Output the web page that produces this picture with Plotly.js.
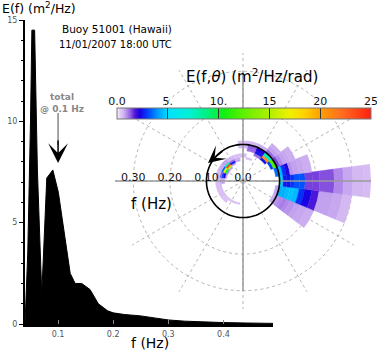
<!DOCTYPE html>
<html><head><meta charset="utf-8">
<script src="https://cdn.plot.ly/plotly-3.0.1.min.js"></script>
<style>html,body{margin:0;padding:0;background:#fff}#chart{width:377px;height:352px}</style>
</head><body><div id="chart"></div>
<script>
// ---- 1-D frequency spectrum E(f) ----
const specFreq   = [0.04, 0.045, 0.05, 0.0525, 0.0575, 0.06, 0.0625, 0.0675, 0.0705, 0.0795, 0.0905, 0.1005, 0.11, 0.122, 0.131, 0.143, 0.158, 0.173, 0.19, 0.2, 0.22, 0.25, 0.275, 0.3, 0.33, 0.36, 0.4, 0.44, 0.49];
const specEnergy = [0, 3.5, 10, 14.5, 14.5, 11, 7.6, 3.7, 1.5, 7.2, 7.6, 6.5, 4.7, 2.5, 2.0, 2.0, 1.7, 1.0, 0.65, 0.55, 0.47, 0.4, 0.3, 0.2, 0.14, 0.1, 0.07, 0.05, 0.03];
const specXTicks = [0.1, 0.2, 0.3, 0.4];
const specXText  = ['0.1', '0.2', '0.3', '0.4'];
const specYTicks = [0, 5, 10, 15];

// ---- directional spectrum E(f,theta) ----
const freqEdges = [0.045, 0.05, 0.055, 0.06, 0.065, 0.075, 0.0825, 0.09, 0.1, 0.11, 0.12, 0.13, 0.14, 0.155, 0.17, 0.19, 0.21, 0.25, 0.275, 0.30, 0.33, 0.35];
const dirCenters = [-30, -15, 0, 15, 30, 45, 60, 75, 90, 105, 120, 135, 150, 165, 180, 195, 210, 225, 240, 255];
const dirWidth = 15;
const dirEnergy = [
  [0,0,0,0,0,0,0,0.7,0.9,1.0,1.1,1.0,0.9,0.8,0.75,0.7,0,0,0,0,0],
  [0,0,0,0,0,0,0,0.8,4.3,4.3,4.5,4.6,4.5,2.8,2.3,1.8,0.8,0.75,0.6,0,0],
  [0,0,0,0,0,0,0,0,4.8,2.5,2.5,2.8,3.2,3.2,1.5,1.5,1.4,1.0,0.75,0.6,0.55],
  [0,0,0,0,0,0,0,3.5,4.5,2.8,2.2,0.9,0.8,0.75,0.7,0,0,0,0,0,0],
  [0,0,0,0,0,0,3.0,12,1.5,1.0,0.8,0.75,0.7,0,0,0,0,0,0,0,0],
  [0,0,0,0,0,2.5,21,7.5,1.2,0.8,0.7,0,0,0,0,0,0,0,0,0,0],
  [0,0,0,0,0,1.2,2.5,2.2,0.7,0,0,0,0,0,0,0,0,0,0,0,0],
  [0,0,0,0.5,0,0,1.2,1.3,0.6,0,0,0,0,0,0,0,0,0,0,0,0],
  [0,0,0,0,0.5,0,0,0.6,0.5,0,0,0,0,0,0,0,0,0,0,0,0],
  [0,0,0.8,0.7,0.5,0,0,0,0,0,0,0,0,0,0,0,0,0,0,0,0],
  [0,0.9,2.5,1.2,0.6,0,0,0,0,0,0,0,0,0,0,0,0,0,0,0,0],
  [0.8,15,24,8,0.8,0,0,0,0,0,0,0,0,0,0,0,0,0,0,0,0],
  [1.0,10,17,3.5,0.7,0,0,0,0,0,0,0,0,0,0,0,0,0,0,0,0],
  [0.7,2.2,3.0,1.3,0.6,0,0,0,0,0,0,0,0,0,0,0,0,0,0,0,0],
  [0,0.7,0.8,0.7,0.5,0,0,0,0,0,0,0,0,0,0,0,0,0,0,0,0],
  [0,0,0,0.6,0.5,0,0,0,0,0,0,0,0,0,0,0,0,0,0,0,0],
  [0,0,0,0.55,0.5,0,0,0,0,0,0,0,0,0,0,0,0,0,0,0,0],
  [0,0,0,0.5,0.45,0,0,0,0,0,0,0,0,0,0,0,0,0,0,0,0],
  [0,0,0,0.5,0,0,0,0,0,0,0,0,0,0,0,0,0,0,0,0,0],
  [0,0,0,0.45,0,0,0,0,0,0,0,0,0,0,0,0,0,0,0,0,0]
];
const cbTickVals = [0, 5, 10, 15, 20, 25];
const cbTickText = ['0.0', '5.', '10.', '15', '20', '25'];
const polarTickVals = [0, 0.1, 0.2, 0.3];
const polarTickText = ['0.0', '0.10', '0.20', '0.30'];
const totalFreq = 0.1;

const cScale = [
  [0.00,'#f6f0fd'],[0.012,'#e2cef7'],[0.025,'#d2b6f2'],[0.04,'#b088ea'],[0.055,'#8a54e0'],[0.07,'#5018d8'],
  [0.09,'#1800e0'],[0.12,'#0040ff'],[0.16,'#0098ff'],[0.2,'#00e0ff'],[0.28,'#00f0d8'],
  [0.36,'#00f07a'],[0.42,'#10f010'],[0.5,'#60f000'],[0.6,'#b0f000'],[0.68,'#f0f000'],
  [0.74,'#ffd000'],[0.8,'#ffa000'],[0.88,'#ff7020'],[1.0,'#ff2010']
];

// build cells
const cTheta = [], cBase = [], cLen = [], cVal = [];
dirCenters.forEach((d, i) => {
  dirEnergy[i].forEach((e, j) => {
    if (e > 0) {
      cTheta.push(d); cBase.push(freqEdges[j]);
      cLen.push(freqEdges[j + 1] - freqEdges[j]); cVal.push(e);
    }
  });
});

const circT = [], circR = [];
for (let a = 0; a <= 360; a += 3) { circT.push(a); circR.push(totalFreq); }

const font = 'DejaVu Sans, sans-serif';
const W = 377, H = 352;
const px = v => v / W, py = v => 1 - v / H;

const traces = [
  {type:'scatter', x:specFreq, y:specEnergy, mode:'lines', fill:'tozeroy',
   fillcolor:'#000', line:{color:'#000', width:1}, xaxis:'x', yaxis:'y', hoverinfo:'skip'},
  {type:'scatter', x:[cbTickVals[0], cbTickVals[cbTickVals.length-1]], y:[0.5,0.5], mode:'markers',
   marker:{opacity:0, size:1}, xaxis:'x2', yaxis:'y2', hoverinfo:'skip'},
  {type:'barpolar', subplot:'polar', theta:cTheta, base:cBase, r:cLen, width:dirWidth,
   marker:{color:cVal, colorscale:cScale, cmin:0, cmax:25,
     line:{color:cVal, colorscale:cScale, cmin:0, cmax:25, width:0.4},
     colorbar:{orientation:'h', x:px(244), xanchor:'center', y:py(108), yanchor:'top',
       len:254, lenmode:'pixels', thickness:11, thicknessmode:'pixels', xpad:0, ypad:0,
       outlinewidth:1, outlinecolor:'#777', tickvals:[5,10,15,20], ticks:'inside',
       ticklen:11, tickcolor:'#333', tickwidth:1, showticklabels:false}},
   hoverinfo:'skip'},
  {type:'scatterpolar', subplot:'polar', r:[0.35,0,0.35], theta:[0,0,180], mode:'lines',
   line:{color:'#9a9a9a', width:1.5}, hoverinfo:'skip'},
  {type:'scatterpolar', subplot:'polar', r:[0.3,0,0.3], theta:[90,90,270], mode:'lines',
   line:{color:'#9a9a9a', width:1.5}, hoverinfo:'skip'},
  {type:'scatterpolar', subplot:'polar', r:circR, theta:circT, mode:'lines',
   line:{color:'#000', width:1.6}, hoverinfo:'skip'}
];

const layout = {
  width:W, height:H, margin:{l:0,r:0,t:0,b:0}, showlegend:false,
  paper_bgcolor:'#fff', plot_bgcolor:'rgba(0,0,0,0)',
  font:{family:font, color:'#000'},
  xaxis:{domain:[px(25), px(273)], range:[0.04, 0.49], anchor:'y', showline:true,
    linecolor:'#000', linewidth:3, showgrid:false, zeroline:false,
    tickvals:specXTicks, ticktext:specXText, ticks:'inside', ticklen:4, tickcolor:'#888',
    tickfont:{size:8, color:'#555'}},
  yaxis:{domain:[1-324/H, 1-20/H], range:[0, 15], anchor:'x', showline:true,
    linecolor:'#000', linewidth:2, showgrid:false, zeroline:false,
    tickvals:specYTicks, ticks:'outside', ticklen:4, tickcolor:'#000',
    tickfont:{size:8, color:'#555'},
    minor:{dtick:1, ticks:'outside', ticklen:2, tickcolor:'#000'}},
  xaxis2:{domain:[px(117), px(371)], range:[0,25], anchor:'y2', side:'top',
    tickvals:cbTickVals, ticktext:cbTickText, ticks:'', showline:false, showgrid:false,
    zeroline:false, ticklabeloverflow:'allow', tickfont:{size:11, color:'#111'}},
  yaxis2:{domain:[1-119/H, 1-108/H], anchor:'x2', visible:false, range:[0,1]},
  polar:{domain:{x:[px(115), px(371)], y:[1-309/H, 1-53/H]}, bgcolor:'rgba(0,0,0,0)',
    radialaxis:{range:[0,0.35], angle:180, tickangle:180, tickvals:polarTickVals, ticktext:polarTickText,
      showline:false, showgrid:true, gridcolor:'#b5b5b5', griddash:'dot', gridwidth:1,
      ticks:'', tickfont:{size:11, color:'#111'}},
    angularaxis:{rotation:0, direction:'counterclockwise', dtick:30, showgrid:true,
      gridcolor:'#b5b5b5', griddash:'dot', gridwidth:1, showticklabels:false, ticks:'', showline:false}},
  shapes:[
    {type:'line', xref:'x', yref:'paper', x0:totalFreq, x1:totalFreq, y0:py(113), y1:py(145),
     line:{color:'#888', width:1.5}}
  ],
  annotations:[
    {text:'E(f) (m<sup>2</sup>/Hz)', xref:'paper', yref:'paper', x:0, y:1+2/H, xanchor:'left', yanchor:'top',
     showarrow:false, font:{size:12.5}},
    {text:'Buoy 51001 (Hawaii)', xref:'paper', yref:'paper', x:px(174), y:py(29), xanchor:'right',
     yanchor:'middle', showarrow:false, font:{size:10.5}},
    {text:'11/01/2007 18:00 UTC', xref:'paper', yref:'paper', x:px(174), y:py(45), xanchor:'right',
     yanchor:'middle', showarrow:false, font:{size:10}},
    {text:'<b>total</b><br><b>@ 0.1 Hz</b>', xref:'paper', yref:'paper', x:px(62), y:py(102.5),
     xanchor:'center', yanchor:'middle', showarrow:false, font:{size:9, color:'#888'}, align:'center'},
    {text:'', xref:'x', yref:'y', x:totalFreq, y:(324-163)/20.27, ax:0, ay:-24, axref:'pixel', ayref:'pixel',
     showarrow:true, arrowhead:3, arrowsize:2.2, arrowwidth:1.5, arrowcolor:'#000'},
    {text:'f (Hz)', xref:'paper', yref:'paper', x:px(150), y:py(343), xanchor:'center', yanchor:'middle',
     showarrow:false, font:{size:14}},
    {text:'f (Hz)', xref:'paper', yref:'paper', x:px(151), y:py(204), xanchor:'center', yanchor:'middle',
     showarrow:false, font:{size:15}},
    {text:'E(f,<i>θ</i>) (m<sup>2</sup>/Hz/rad)', xref:'paper', yref:'paper', x:px(252), y:py(76),
     xanchor:'center', yanchor:'middle', showarrow:false, font:{size:15}},
    {text:'', xref:'paper', yref:'paper', x:px(208), y:py(163), ax:16, ay:-13,
     showarrow:true, arrowhead:3, arrowsize:1.9, arrowwidth:1.5, arrowcolor:'#000'}
  ]
};

Plotly.newPlot('chart', traces, layout, {displayModeBar:false, staticPlot:true});
</script></body></html>
